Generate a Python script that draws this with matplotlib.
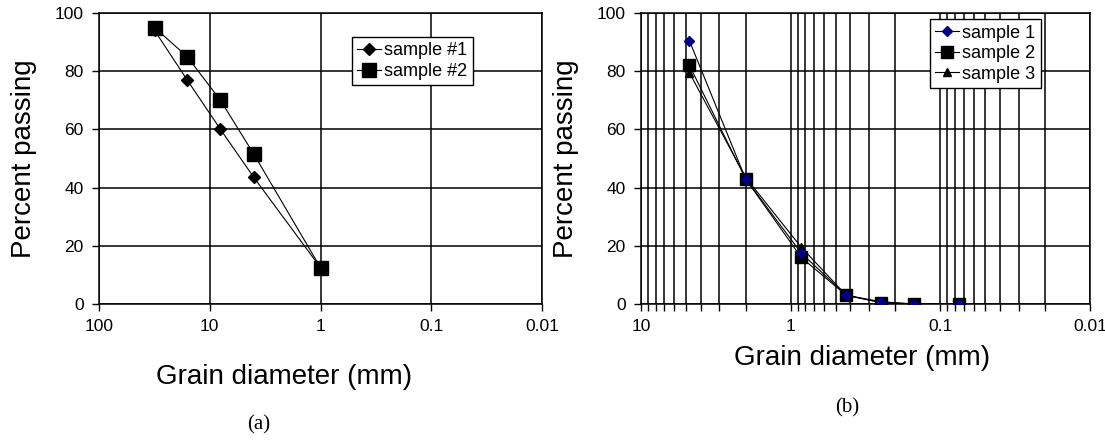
import matplotlib
matplotlib.use("Agg")
import matplotlib.pyplot as plt
from matplotlib.ticker import LogLocator, NullFormatter, FixedLocator, FixedFormatter

plt.rcParams["font.family"] = ["Liberation Sans", "DejaVu Sans"]

# (a) grain size curves
sizes_a = [31.5, 16, 8, 4, 1]
sample1_a = [94, 77, 60, 43.5, 12.5]
sample2_a = [95, 85, 70, 51.5, 12.5]

# (b) sieve analysis
sizes_b = [4.75, 2.0, 0.85, 0.425, 0.25, 0.15, 0.075]
sample1_b = [90.5, 43, 17.5, 3, 0.8, 0, 0]
sample2_b = [82, 43, 16, 3, 0.5, 0, 0]
sample3_b = [79.5, 43.5, 19.5, 3, 0.5, 0, 0]

yticks = [0, 20, 40, 60, 80, 100]
xticks_a = [100, 10, 1, 0.1, 0.01]
xlabels_a = ["100", "10", "1", "0.1", "0.01"]
xticks_b = [10, 1, 0.1, 0.01]
xlabels_b = ["10", "1", "0.1", "0.01"]

W, H = 1105, 440
fig = plt.figure(figsize=(W / 100, H / 100), dpi=100)


def px_axes(x0, x1, y0, y1):
    return fig.add_axes([x0 / W, 1 - y1 / H, (x1 - x0) / W, (y1 - y0) / H])


def style(ax, xmax, xmin, ticks, labels):
    ax.set_xscale("log")
    ax.set_xlim(xmax, xmin)
    ax.set_ylim(0, 100)
    ax.set_yticks(yticks)
    ax.xaxis.set_major_locator(FixedLocator(ticks))
    ax.xaxis.set_major_formatter(FixedFormatter(labels))
    ax.grid(True, which="major", color="black", linewidth=1.1)
    for s in ax.spines.values():
        s.set_linewidth(1.1)
    ax.tick_params(axis="both", which="both", direction="out", length=5,
                   width=1.0, labelsize=12.5, pad=6)
    ax.set_axisbelow(True)


# ---- (a)
ax1 = px_axes(99, 542, 13, 304)
style(ax1, 100, 0.01, xticks_a, xlabels_a)
ax1.xaxis.set_minor_locator(LogLocator(base=10, subs=[]))
ax1.plot(sizes_a, sample1_a, color="black", lw=0.8, marker="D", ms=6,
         label="sample #1")
ax1.plot(sizes_a, sample2_a, color="black", lw=0.8, marker="s", ms=9.5,
         label="sample #2")
leg = ax1.legend(loc="upper left", bbox_to_anchor=(0.571, 0.9175), fontsize=13,
                 frameon=True, fancybox=False, edgecolor="black", framealpha=1,
                 handlelength=1.3, handletextpad=0.2, labelspacing=0.2,
                 borderpad=0.3, borderaxespad=0)
leg.get_frame().set_linewidth(1.0)
ax1.set_ylabel("Percent passing", fontsize=20, labelpad=13)

# ---- (b)
ax2 = px_axes(641, 1090, 13, 304)
style(ax2, 10, 0.01, xticks_b, xlabels_b)
ax2.xaxis.set_minor_locator(LogLocator(base=10, subs=range(2, 10), numticks=20))
ax2.xaxis.set_minor_formatter(NullFormatter())
ax2.grid(True, which="minor", axis="x", color="black", linewidth=1.1)
ax2.plot(sizes_b, sample2_b, color="black", lw=0.8, marker="s", ms=8,
         label="sample 2", zorder=3)
ax2.plot(sizes_b, sample3_b, color="black", lw=0.8, marker="^", ms=6,
         label="sample 3", zorder=4)
ax2.plot(sizes_b, sample1_b, color="black", lw=0.8, marker="D", ms=5.5,
         markerfacecolor="#000080", markeredgecolor="#000080",
         label="sample 1", zorder=5)
h, l = ax2.get_legend_handles_labels()
order = [2, 0, 1]
leg2 = ax2.legend([h[i] for i in order], [l[i] for i in order], loc="upper left",
                  bbox_to_anchor=(0.643, 0.979), fontsize=13, frameon=True,
                  fancybox=False, edgecolor="black", framealpha=1,
                  handlelength=1.3, handletextpad=0.2, labelspacing=0.2,
                  borderpad=0.3, borderaxespad=0)
leg2.get_frame().set_linewidth(1.0)
ax2.set_ylabel("Percent passing", fontsize=20, labelpad=13)

# x labels and panel captions
fig.text(284 / W, 1 - 377 / H, "Grain diameter (mm)", fontsize=20,
         ha="center", va="center")
fig.text(862 / W, 1 - 358 / H, "Grain diameter (mm)", fontsize=20,
         ha="center", va="center")
fig.text(259 / W, 1 - 425 / H, "(a)", fontsize=15, family="Liberation Serif",
         ha="center", va="center")
fig.text(847 / W, 1 - 408 / H, "(b)", fontsize=15, family="Liberation Serif",
         ha="center", va="center")

fig.savefig("out.png", dpi=100)
